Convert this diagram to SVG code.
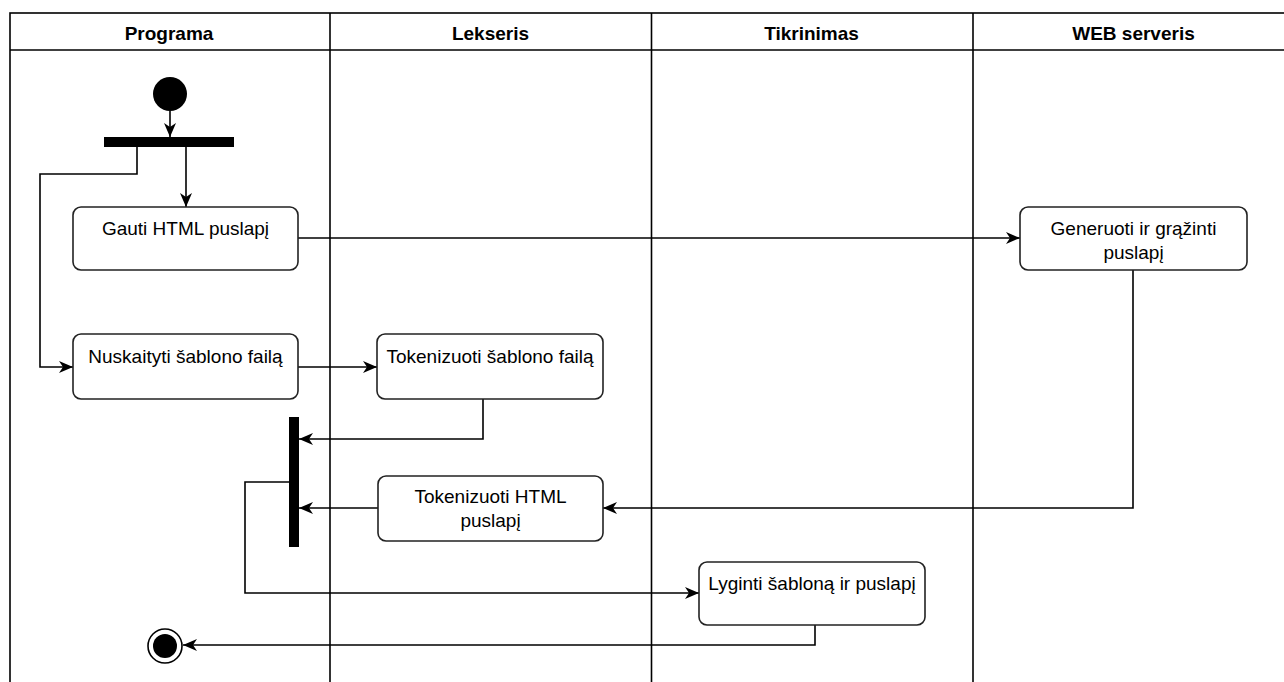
<svg xmlns="http://www.w3.org/2000/svg" width="1284" height="682" viewBox="0 0 1284 682">
<style>
.lane{fill:none;stroke:#000;stroke-width:1.6}
.hdr{font-family:"Liberation Sans",Arial,sans-serif;font-size:19px;font-weight:bold;fill:#000;text-anchor:middle}
.box{fill:#fff;stroke:#222;stroke-width:1.6}
.txt{font-family:"Liberation Sans",Arial,sans-serif;font-size:19px;fill:#000;text-anchor:middle}
.bar{fill:#000}
.edge{fill:none;stroke:#000;stroke-width:1.6;marker-end:url(#arr)}
</style>
<defs>
<marker id="arr" markerUnits="userSpaceOnUse" markerWidth="16" markerHeight="14" refX="14" refY="6" orient="auto" viewBox="0 0 16 14">
<path d="M0,0 L14,6 L0,12 L4,6 z" fill="#000"/>
</marker>
</defs>
<rect width="1284" height="682" fill="#fff"/>
<g id="pool">
<rect class="lane" x="10" y="13" width="1290" height="700"/>
<line class="lane" x1="10" y1="50" x2="1300" y2="50"/>
<line class="lane" x1="330" y1="13" x2="330" y2="700"/>
<line class="lane" x1="651.5" y1="13" x2="651.5" y2="700"/>
<line class="lane" x1="973" y1="13" x2="973" y2="700"/>
<text class="hdr" x="169" y="40">Programa</text>
<text class="hdr" x="490.5" y="40">Lekseris</text>
<text class="hdr" x="811.5" y="40">Tikrinimas</text>
<text class="hdr" x="1133.5" y="40">WEB serveris</text>
</g>
<g id="connectors">
<path class="edge" d="M170,111 L170,137"/>
<path class="edge" d="M186,147 L186,207"/>
<path class="edge" d="M137,147 L137,174 L40,174 L40,367 L73,367"/>
<path class="edge" d="M298,238 L1020,238"/>
<path class="edge" d="M298,367 L377,367"/>
<path class="edge" d="M483,399 L483,439 L299,439"/>
<path class="edge" d="M1133,270 L1133,508 L603,508"/>
<path class="edge" d="M378,508 L299,508"/>
<path class="edge" d="M289,482 L245,482 L245,593 L699,593"/>
<path class="edge" d="M815,625 L815,645 L183,645"/>
</g>
<g id="start"><circle cx="170" cy="94" r="17" fill="#000"/></g>
<g id="fork1"><rect class="bar" x="104" y="137" width="130" height="10"/></g>
<g id="gauti"><rect class="box" x="73" y="207" width="225" height="63" rx="8"/><text class="txt" x="185.5" y="235">Gauti HTML puslapį</text></g>
<g id="nuskaityti"><rect class="box" x="73" y="334" width="225" height="65" rx="8"/><text class="txt" x="185.5" y="363">Nuskaityti šablono failą</text></g>
<g id="tokSablono"><rect class="box" x="377" y="334" width="226" height="65" rx="8"/><text class="txt" x="490" y="363">Tokenizuoti šablono failą</text></g>
<g id="join"><rect class="bar" x="289" y="417" width="10" height="130"/></g>
<g id="tokHtml"><rect class="box" x="378" y="476" width="225" height="65" rx="8"/><text class="txt" x="490.5" y="503">Tokenizuoti HTML</text><text class="txt" x="490.5" y="527">puslapį</text></g>
<g id="generuoti"><rect class="box" x="1020" y="207" width="227" height="63" rx="8"/><text class="txt" x="1133.5" y="235">Generuoti ir grąžinti</text><text class="txt" x="1133.5" y="259">puslapį</text></g>
<g id="lyginti"><rect class="box" x="699" y="562" width="226" height="63" rx="8"/><text class="txt" x="812" y="590">Lyginti šabloną ir puslapį</text></g>
<g id="end"><circle cx="165" cy="646" r="17" fill="#fff" stroke="#000" stroke-width="1.6"/><circle cx="165" cy="646" r="12" fill="#000"/></g>
</svg>
